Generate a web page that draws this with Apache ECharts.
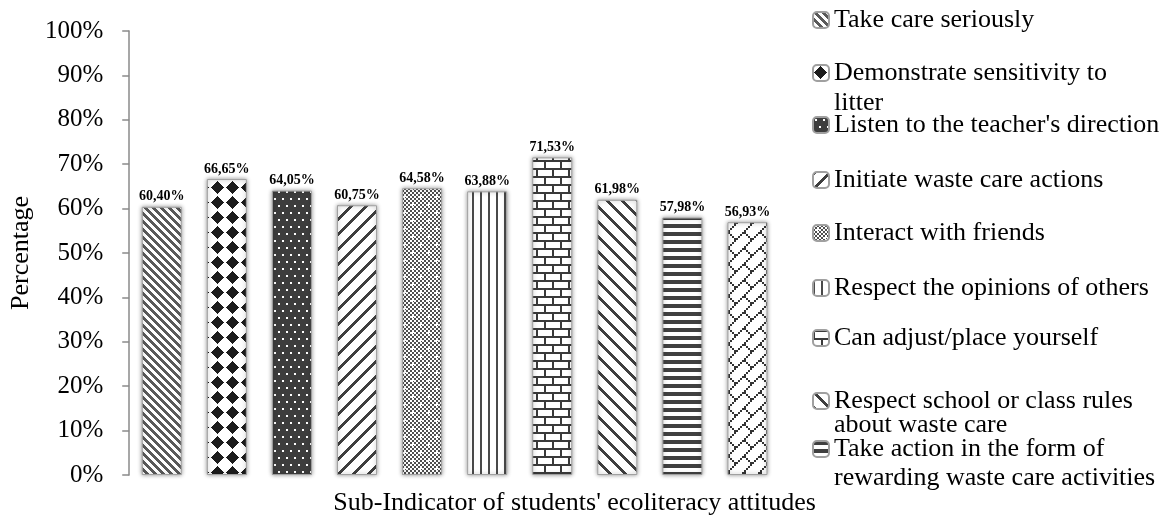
<!DOCTYPE html>
<html>
<head>
<meta charset="utf-8">
<script src="https://cdn.jsdelivr.net/npm/echarts@6/dist/echarts.min.js"></script>
<style>
  html, body { margin: 0; padding: 0; background: #fff; }
  #chart { width: 1172px; height: 521px; }
</style>
</head>
<body>
<div id="chart"></div>
<script>
// ---- data ----
const categories = [
  "Take care seriously",
  "Demonstrate sensitivity to litter",
  "Listen to the teacher's direction",
  "Initiate waste care actions",
  "Interact with friends",
  "Respect the opinions of others",
  "Can adjust/place yourself",
  "Respect school or class rules about waste care",
  "Take action in the form of rewarding waste care activities",
  "Sub-indicator 10"
];
const values = [60.40, 66.65, 64.05, 60.75, 64.58, 63.88, 71.53, 61.98, 57.98, 56.93];
// legend text as it wraps in the picture (the 10th entry is cut off there)
const legendLabels = [
  "Take care seriously",
  "Demonstrate sensitivity to\nlitter",
  "Listen to the teacher's direction",
  "Initiate waste care actions",
  "Interact with friends",
  "Respect the opinions of others",
  "Can adjust/place yourself",
  "Respect school or class rules\nabout waste care",
  "Take action in the form of\nrewarding waste care activities"
];
const yTickLabels = ["0%","10%","20%","30%","40%","50%","60%","70%","80%","90%","100%"];
const axisTitleX = "Sub-Indicator of students' ecoliteracy attitudes";
const axisTitleY = "Percentage";

// ---- patterns (style only) ----
function tile(w, h, fn) {
  const c = document.createElement('canvas');
  c.width = w; c.height = h;
  const ctx = c.getContext('2d');
  ctx.fillStyle = '#ffffff';
  ctx.fillRect(0, 0, w, h);
  for (let y = 0; y < h; y++) {
    for (let x = 0; x < w; x++) {
      const col = fn(x, y);
      if (col) { ctx.fillStyle = col; ctx.fillRect(x, y, 1, 1); }
    }
  }
  return { image: c, repeat: 'repeat' };
}
const mod = (a, n) => ((a % n) + n) % n;
const patterns = [
  // 1 fine downward diagonal
  tile(8, 8, (x, y) => mod(x - y, 8) < 4 ? '#5a5a5a' : null),
  // 2 solid diamonds
  tile(15, 15, (x, y) => (Math.abs(x + 0.5 - 7.5) + Math.abs(y + 0.5 - 7.5) <= 6.2) ? '#1c1c1c' : null),
  // 3 dark with white dots
  tile(8, 14, (x, y) => ((x >= 2 && x < 4 && y >= 2 && y < 4) || (x >= 6 && x < 8 && y >= 9 && y < 11)) ? '#ffffff' : '#3d3d3d'),
  // 4 wide upward diagonal
  tile(15, 15, (x, y) => mod(x + y, 15) < 4 ? '#3f3f3f' : null),
  // 5 checker with white crosses
  tile(16, 16, (x, y) => {
    const cross = (cx, cy) => (x === cx && Math.abs(y - cy) <= 1) || (y === cy && Math.abs(x - cx) <= 1);
    if (cross(4, 4) || cross(12, 12)) return '#ffffff';
    return ((Math.floor(x / 2) + Math.floor(y / 2)) % 2 === 0) ? '#4f4f4f' : null;
  }),
  // 6 vertical lines
  tile(8, 8, (x, y) => (x < 2) ? '#4a4a4a' : null),
  // 7 bricks
  tile(16, 16, (x, y) => {
    if (y % 8 < 2) return '#3a3a3a';
    if (y < 8 && x < 2) return '#3a3a3a';
    if (y >= 8 && x >= 8 && x < 10) return '#3a3a3a';
    return null;
  }),
  // 8 wide downward diagonal
  tile(15, 15, (x, y) => mod(x - y, 15) < 4 ? '#3f3f3f' : null),
  // 9 horizontal lines
  tile(8, 8, (x, y) => (y < 4) ? '#404040' : null),
  // 10 diagonal brick
  tile(16, 16, (x, y) => {
    const px = Math.floor(x / 2), py = Math.floor(y / 2);
    if (px + py === 7) return '#333333';
    if (px - py === 0 && py >= 4) return '#333333';
    return null;
  })
];

// ---- series ----
const fmtPct = v => v.toFixed(2).replace('.', ',') + '%';
const series = categories.map((name, i) => ({
  name: name,
  type: 'bar',
  stack: 'all',
  barWidth: 40,
  data: values.map((v, j) => (j === i ? v : null)),
  itemStyle: {
    color: patterns[i],
    borderColor: '#a0a0a0',
    borderWidth: 1,
    shadowBlur: 4,
    shadowColor: 'rgba(0,0,0,0.4)'
  },
  label: {
    show: true,
    position: 'top',
    distance: 3,
    fontFamily: 'Liberation Serif',
    fontWeight: 'bold',
    fontSize: 14,
    color: '#000',
    formatter: p => (p.value == null ? '' : fmtPct(p.value))
  },
  emphasis: { disabled: true }
}));

// ---- legends: one entry each, placed like the picture ----
// first-line centre of each entry and its line spacing
const legendCenters = [20, 73, 125, 180, 233, 288, 338, 400, 449];
const legendLineH = [28, 30, 28, 28, 28, 28, 28, 24, 29];
const legends = legendLabels.map((lbl, i) => {
  const lh = legendLineH[i];
  const multi = lbl.indexOf('\n') >= 0;
  // a leading empty line keeps the icon level with the first text line
  const txt = multi ? '\n' + lbl : lbl;
  const boxH = multi ? 3 * lh : lh;
  return {
    data: [categories[i]],
    left: 812,
    top: legendCenters[i] - boxH / 2,
    padding: 0,
    itemWidth: 16,
    itemHeight: 16,
    selectedMode: false,
    formatter: () => txt,
    textStyle: {
      fontFamily: 'Liberation Serif',
      fontSize: 26,
      color: '#000',
      lineHeight: lh
    }
  };
});

const chart = echarts.init(document.getElementById('chart'), null, { renderer: 'canvas' });
chart.setOption({
  animation: false,
  backgroundColor: '#ffffff',
  grid: { left: 116, top: 31, width: 664, height: 450 },
  legend: legends,
  xAxis: {
    type: 'category',
    data: categories,
    axisLine: { show: false },
    axisTick: { show: false },
    axisLabel: { show: false },
    name: axisTitleX,
    nameLocation: 'middle',
    nameGap: 15,
    nameTextStyle: {
      fontFamily: 'Liberation Serif',
      fontSize: 26,
      color: '#000',
      padding: [0, 0, 0, 240]
    }
  },
  yAxis: {
    type: 'value',
    min: 0,
    max: 100,
    interval: 10,
    splitLine: { show: false },
    axisLine: { show: true, lineStyle: { color: '#8a8a8a', width: 1.5 } },
    axisTick: { show: true, length: 7, lineStyle: { color: '#8a8a8a', width: 1.5 } },
    axisLabel: {
      margin: 26,
      fontFamily: 'Liberation Serif',
      fontSize: 25,
      color: '#000',
      formatter: v => yTickLabels[Math.round(v / 10)]
    },
    name: axisTitleY,
    nameLocation: 'middle',
    nameGap: 80,
    nameTextStyle: {
      fontFamily: 'Liberation Serif',
      fontSize: 26,
      color: '#000'
    }
  },
  series: series
});
</script>
</body>
</html>
